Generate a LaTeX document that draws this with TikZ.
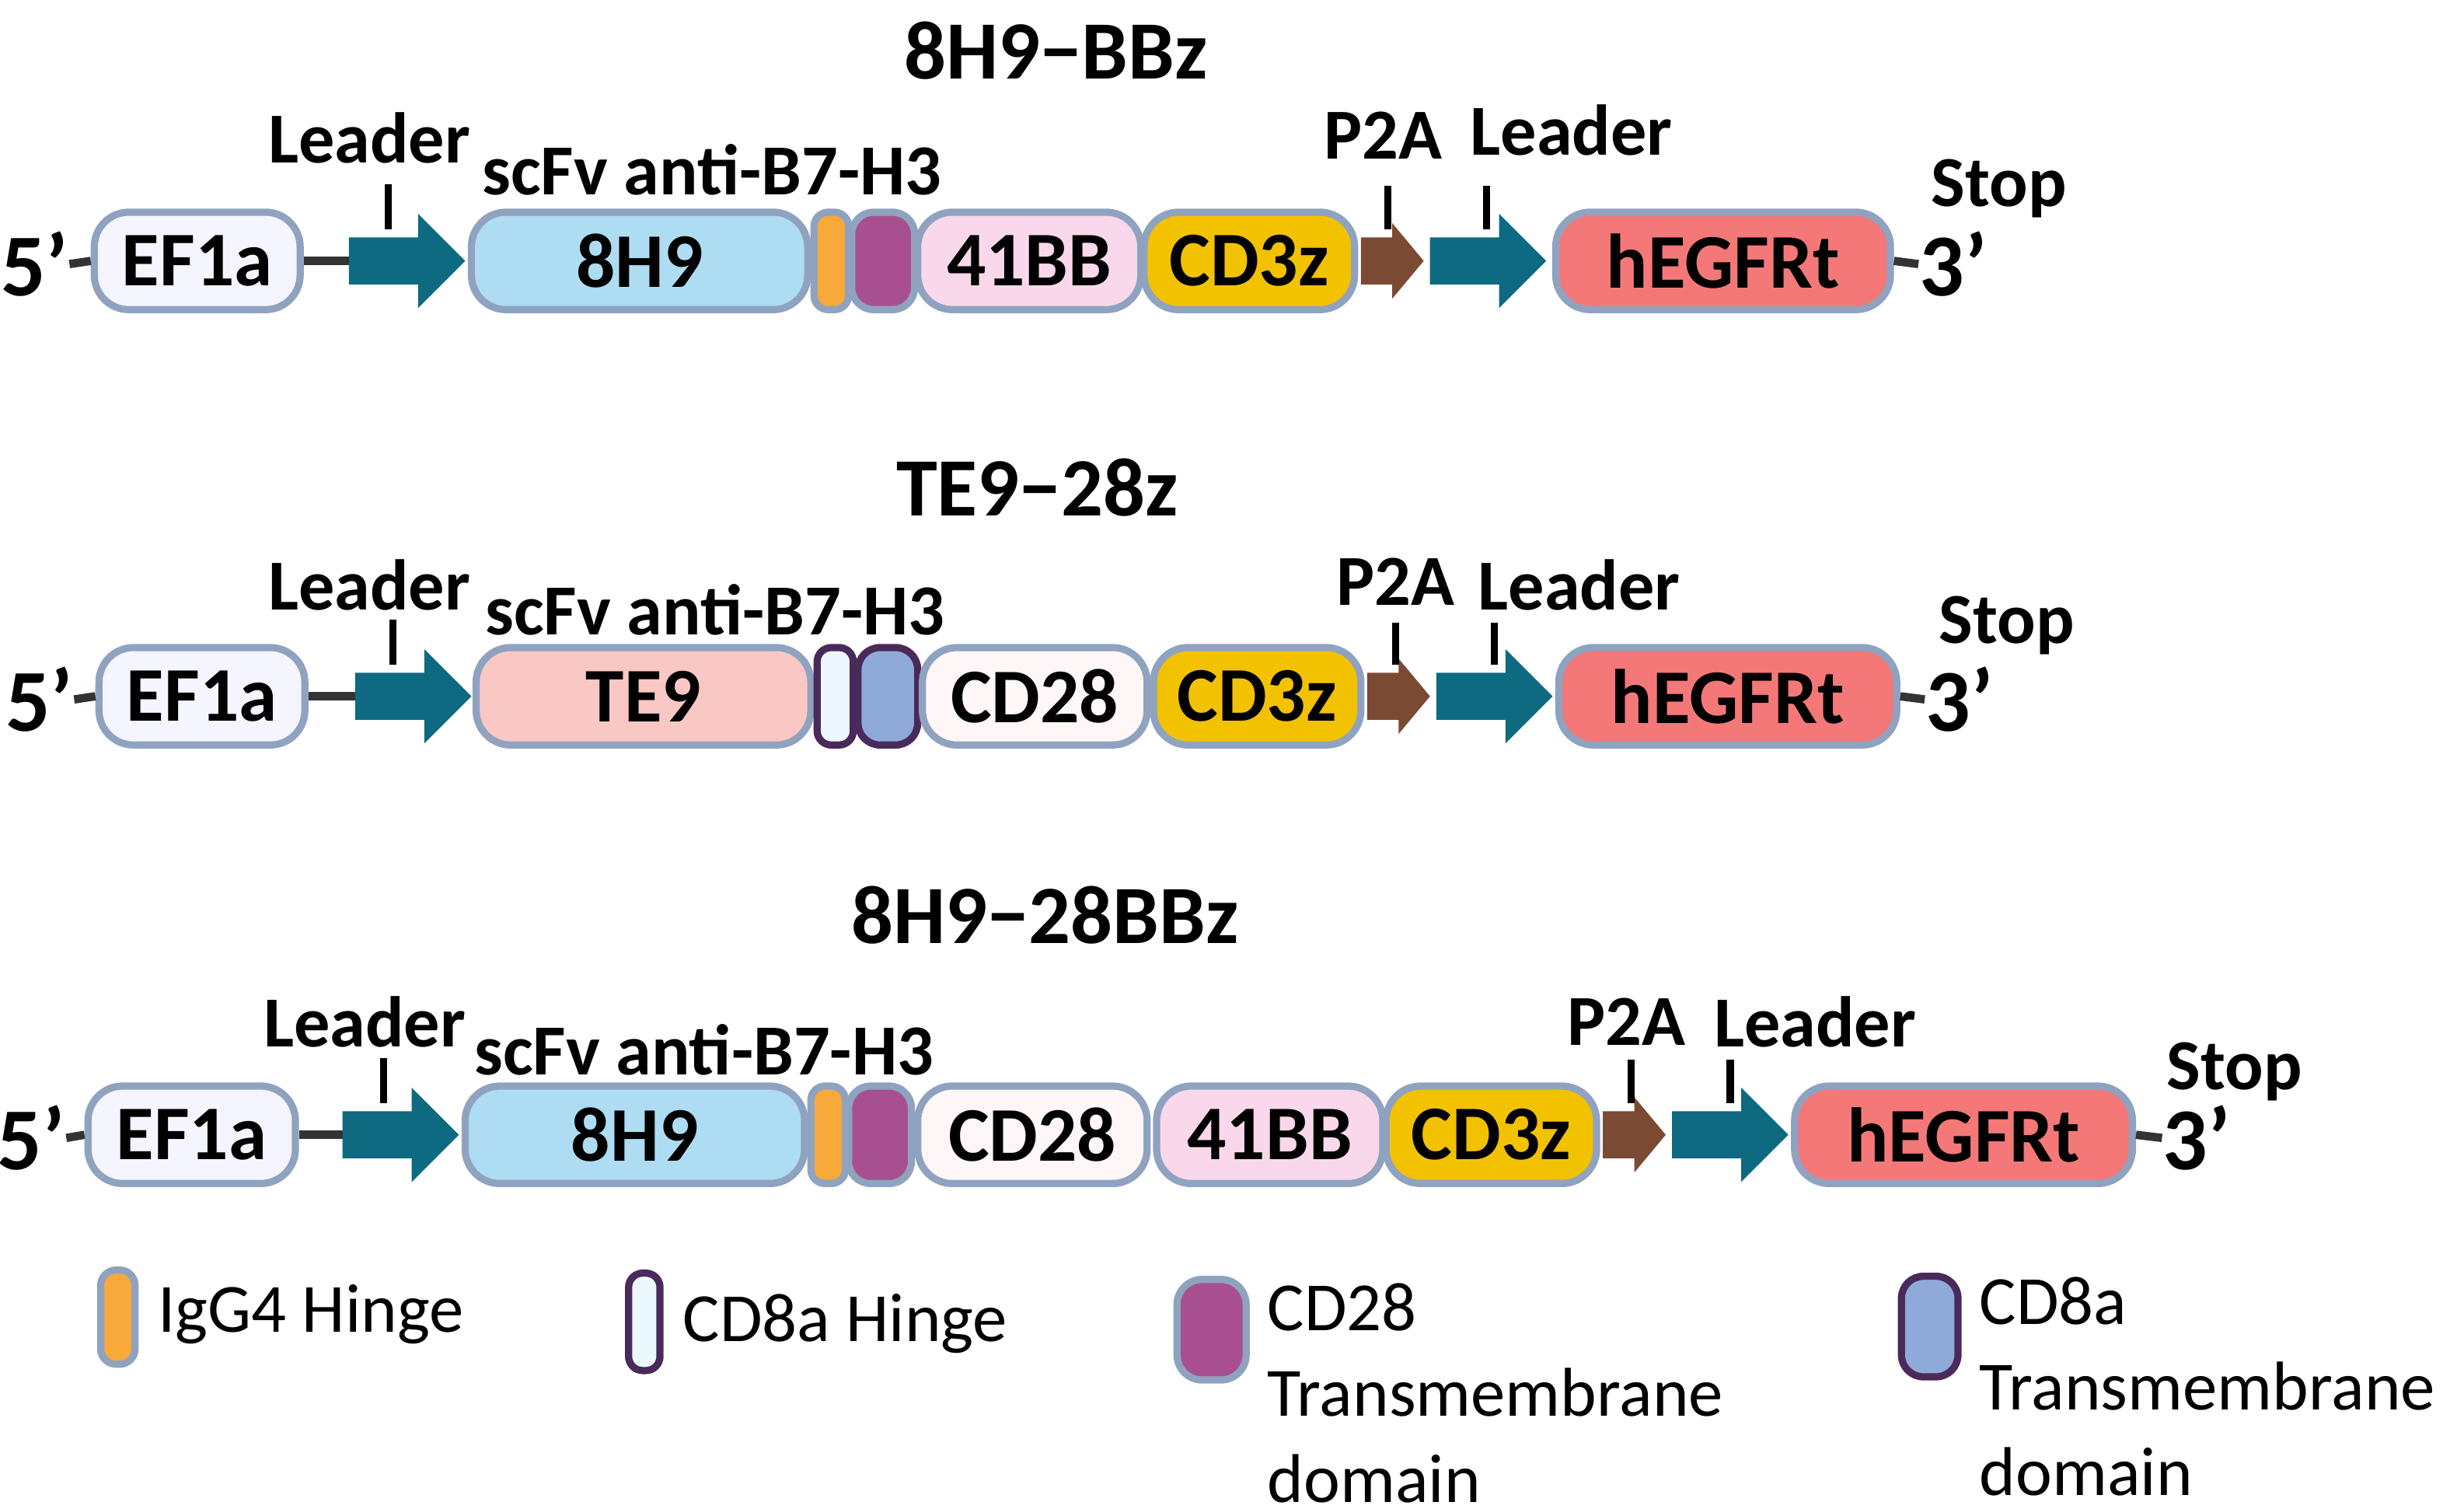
\documentclass[tikz,border=0pt]{standalone}
\usepackage{fontspec}
\setmainfont{Carlito}
\begin{document}
\begin{tikzpicture}[x=0.1mm,y=-0.1mm,
 box/.style={draw=#1,line width=1.3pt,rounded corners=2.2mm,inner sep=0pt,font=\fontsize{14}{14}\selectfont\bfseries},
 lab/.style={font=\fontsize{13}{13}\selectfont\bfseries,inner sep=0pt},
 ttl/.style={font=\fontsize{15}{15}\selectfont\bfseries,inner sep=0pt},
 leg/.style={font=\fontsize{12.5}{15}\selectfont,inner sep=0pt,anchor=west,align=left},
 tick/.style={line width=1.3pt},
 conn/.style={line width=1.5pt,draw=black!80}]
\definecolor{bd}{HTML}{8FA3C0}\definecolor{dp}{HTML}{4A2A5A}
\definecolor{teal}{HTML}{0E6A80}\definecolor{brn}{HTML}{7B4A33}
\definecolor{lblue}{HTML}{AEDCF2}\definecolor{purp}{HTML}{A8508F}
\definecolor{tmb}{HTML}{8FAAD8}\definecolor{org}{HTML}{F7A93A}
\definecolor{pnk}{HTML}{F8D8EA}\definecolor{ylw}{HTML}{F2C200}
\definecolor{hred}{HTML}{F47878}\definecolor{te}{HTML}{F9C8C4}
\useasboundingbox (0,0) rectangle (1568,960);
\newcommand\blk[8][2.2mm]{\node[box=#8,fill=#6,rounded corners=#1,minimum width={(#4-#3)*0.1mm},minimum height=6.2mm] (#2) at ({(#3+#4)/2},#5) {#7};}
\newcommand\arr[5]{%
 \fill[#5] (#2,#4-15) -- (#3-30,#4-15) -- (#3-30,#4-30) -- (#3,#4) -- (#3-30,#4+30) -- (#3-30,#4+15) -- (#2,#4+15) -- cycle;
 \coordinate (#1) at (#2,#4);}
\newcommand\brarr[4]{%
 \fill[brn] (#2,#4-15) -- (#3-20,#4-15) -- (#3-20,#4-24) -- (#3,#4) -- (#3-20,#4+24) -- (#3-20,#4+15) -- (#2,#4+15) -- cycle;
 \coordinate (#1) at (#2,#4);}
% ROW 1
\node[ttl] (t1) at (672,32) {8H9−BBz};
\node[lab,font=\fontsize{16}{16}\selectfont\bfseries] (f1) at (22,168) {5'};
\blk{e1}{60}{191}{166}{blue!4}{EF1a}{bd}
\arr{a1}{222}{296}{166}{teal}
\draw[conn] (e1.east) -- (a1);
\draw[conn] (f1.east) -- (e1.west);
\node[lab] (l1) at (235,88) {Leader}; \draw[tick] (247,117) -- (247,146);
\node[lab] (s1) at (453,108) {scFv anti-B7-H3};
\blk{b1}{300}{514}{166}{lblue}{8H9}{bd}
\blk[0.9mm]{h1}{518}{540}{166}{org}{}{bd}
\blk[1.4mm]{m1}{542}{582}{166}{purp}{}{bd}
\blk{c1}{584}{726}{166}{pnk}{41BB}{bd}
\blk{z1}{728}{862}{166}{ylw}{CD3z}{bd}
\brarr{p1}{866}{906}{166}
\node[lab] (pl1) at (880,86) {P2A}; \draw[tick] (883,118) -- (883,146);
\arr{q1}{910}{984}{166}{teal}
\node[lab] (ll1) at (1000,83) {Leader}; \draw[tick] (946,118) -- (946,146);
\blk{g1}{990}{1203}{166}{hred}{hEGFRt}{bd}
\node[lab,font=\fontsize{16}{16}\selectfont\bfseries] (th1) at (1243,168) {3'};
\draw[conn] (g1.east) -- (th1.west);
\node[lab] (st1) at (1272,120) {Stop};
% ROW 2
\node[ttl] (t2) at (660,310) {TE9−28z};
\node[lab,font=\fontsize{16}{16}\selectfont\bfseries] (f2) at (25,445) {5'};
\blk{e2}{63}{194}{443}{blue!4}{EF1a}{bd}
\arr{a2}{226}{300}{443}{teal}
\draw[conn] (e2.east) -- (a2);
\draw[conn] (f2.east) -- (e2.west);
\node[lab] (l2) at (235,372) {Leader}; \draw[tick] (250,394) -- (250,423);
\node[lab] (s2) at (455,388) {scFv anti-B7-H3};
\blk{b2}{303}{516}{443}{te}{TE9}{bd}
\blk[0.9mm]{h2}{520}{543}{443}{cyan!8}{}{dp}
\blk[1.4mm]{m2}{546}{584}{443}{tmb}{}{dp}
\blk{c2}{587}{730}{443}{pink!12}{CD28}{bd}
\blk{z2}{734}{866}{443}{ylw}{CD3z}{bd}
\brarr{p2}{870}{910}{443}
\node[lab] (pl2) at (888,370) {P2A}; \draw[tick] (888,396) -- (888,423);
\arr{q2}{914}{988}{443}{teal}
\node[lab] (ll2) at (1005,372) {Leader}; \draw[tick] (951,396) -- (951,423);
\blk{g2}{992}{1207}{443}{hred}{hEGFRt}{bd}
\node[lab,font=\fontsize{16}{16}\selectfont\bfseries] (th2) at (1247,445) {3'};
\draw[conn] (g2.east) -- (th2.west);
\node[lab] (st2) at (1277,398) {Stop};
% ROW 3
\node[ttl] (t3) at (665,582) {8H9−28BBz};
\node[lab,font=\fontsize{16}{16}\selectfont\bfseries] (f3) at (20,724) {5'};
\blk{e3}{56}{188}{722}{blue!4}{EF1a}{bd}
\arr{a3}{218}{292}{722}{teal}
\draw[conn] (e3.east) -- (a3);
\draw[conn] (f3.east) -- (e3.west);
\node[lab] (l3) at (232,650) {Leader}; \draw[tick] (244,673) -- (244,702);
\node[lab] (s3) at (448,668) {scFv anti-B7-H3};
\blk{b3}{296}{512}{722}{lblue}{8H9}{bd}
\blk[0.9mm]{h3}{516}{538}{722}{org}{}{bd}
\blk[1.4mm]{m3}{540}{580}{722}{purp}{}{bd}
\blk{d3}{584}{730}{722}{pink!12}{CD28}{bd}
\blk{c3}{736}{880}{722}{pnk}{41BB}{bd}
\blk{z3}{882}{1016}{722}{ylw}{CD3z}{bd}
\brarr{p3}{1020}{1060}{722}
\node[lab] (pl3) at (1035,650) {P2A}; \draw[tick] (1038,674) -- (1038,702);
\arr{q3}{1064}{1138}{722}{teal}
\node[lab] (ll3) at (1155,650) {Leader}; \draw[tick] (1101,674) -- (1101,702);
\blk{g3}{1142}{1357}{722}{hred}{hEGFRt}{bd}
\node[lab,font=\fontsize{16}{16}\selectfont\bfseries] (th3) at (1398,724) {3'};
\draw[conn] (g3.east) -- (th3.west);
\node[lab] (st3) at (1422,682) {Stop};
% LEGEND
\node[box=bd,fill=org,minimum width=2.2mm,minimum height=6mm,rounded corners=1mm] (k1) at (75,838) {};
\node[leg] (kt1) at (100,836) {IgG4 Hinge};
\node[box=dp,fill=cyan!8,minimum width=2mm,minimum height=6.2mm,rounded corners=0.9mm] (k2) at (410,841) {};
\node[leg] (kt2) at (434,842) {CD8a Hinge};
\node[box=bd,fill=purp,minimum width=4.4mm,minimum height=6.4mm,rounded corners=1.6mm] (k3) at (771,846) {};
\node[leg,anchor=north west,font=\fontsize{12.5}{15.5}\selectfont] (kt3) at (806,816) {CD28\\Transmembrane\\domain};
\node[box=dp,fill=tmb,minimum width=3.6mm,minimum height=6.4mm,rounded corners=1.4mm] (k4) at (1228,844) {};
\node[leg,anchor=north west,font=\fontsize{12.5}{15.5}\selectfont] (kt4) at (1259,812) {CD8a\\Transmembrane\\domain};
\end{tikzpicture}
\end{document}
